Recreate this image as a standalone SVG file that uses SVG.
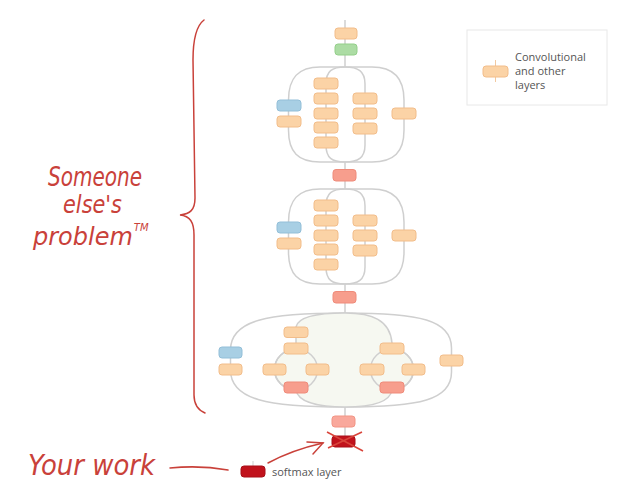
<svg xmlns="http://www.w3.org/2000/svg" width="627" height="501" viewBox="0 0 627 501">
<style>
.n{stroke-width:1}
.o{fill:#fbd3a6;stroke:#f2bd8a}
.b{fill:#a8cfe4;stroke:#93bfd8}
.g{fill:#acdca4;stroke:#94cf8a}
.r{fill:#f79e8d;stroke:#ef8b7a}
.d{fill:#c1121c;stroke:#a80f18}
.ln{fill:none;stroke:#cfcfcf;stroke-width:1.5}
.hw{fill:#c9413a;font-family:"DejaVu Sans ExtraLight","DejaVu Sans",sans-serif;font-weight:200;font-style:italic}
.hl{fill:none;stroke:#c9413a;stroke-width:1.5;stroke-linecap:round}
.lt{fill:#555;font-family:"Open Sans","Liberation Sans",sans-serif;font-size:11px}
</style>
<defs>
<g id="mod">
<path class="ln" d="M345,67 L320,67 C298,67 288.5,78 288.5,100 L288.5,130 C288.5,152 298,162 320,162 L345,162 L372,162 C394,162 404,152 404,130 L404,100 C404,78 394,67 372,67 Z"/>
<path class="ln" d="M345,67 C332,67 326,71 326,84 L326,145 C326,158 332,162 345,162 C358,162 365,158 365,145 L365,84 C365,71 358,67 345,67 Z"/>
<rect class="n b" x="277" y="100" width="24" height="11" rx="3"/>
<rect class="n o" x="277" y="116" width="24" height="11" rx="3"/>
<rect class="n o" x="314" y="78" width="24" height="11" rx="3"/>
<rect class="n o" x="314" y="93" width="24" height="11" rx="3"/>
<rect class="n o" x="314" y="108" width="24" height="11" rx="3"/>
<rect class="n o" x="314" y="122" width="24" height="11" rx="3"/>
<rect class="n o" x="314" y="137" width="24" height="11" rx="3"/>
<rect class="n o" x="353" y="93" width="24" height="11" rx="3"/>
<rect class="n o" x="353" y="108" width="24" height="11" rx="3"/>
<rect class="n o" x="353" y="123" width="24" height="11" rx="3"/>
<rect class="n o" x="392" y="108" width="24" height="11" rx="3"/>
</g>
</defs>
<rect width="627" height="501" fill="#fff"/>

<g id="connectors">
<line class="ln" x1="345" y1="20" x2="345" y2="67"/>
<line class="ln" x1="345" y1="162" x2="345" y2="189"/>
<line class="ln" x1="345" y1="284" x2="345" y2="313"/>
<line class="ln" x1="345" y1="407" x2="345" y2="436"/>
<path class="ln" d="M345,313 C268,313 230.5,320 230.5,350 L230.5,370 C230.5,400 268,407 345,407 C420,407 451.5,400 451.5,372 L451.5,348 C451.5,320 420,313 345,313 Z"/>
<path d="M345,313 C318,313 298,316 296,327 L296,349 A21.5,20.5 0 0 0 296,390 C298,402 318,407 345,407 C372,407 390,402 392,390 A21.5,20.5 0 0 0 392,349 L392,343 C390,320 372,313 345,313 Z" fill="#f6f8f1" stroke="#cfcfcf" stroke-width="1.5"/>
<ellipse class="ln" cx="296" cy="369.5" rx="21.5" ry="20.5"/>
<ellipse class="ln" cx="392" cy="369.5" rx="21.5" ry="20.5"/>
</g>

<g id="stem">
<rect class="n o" x="335" y="28" width="22" height="11" rx="3"/>
<rect class="n g" x="335" y="44" width="22" height="11" rx="3"/>
</g>
<g id="module1"><use href="#mod"/></g>
<g id="pool1"><rect class="n r" x="333" y="169.5" width="23" height="11.5" rx="3"/></g>
<g id="module2"><use href="#mod" transform="translate(0,122)"/></g>
<g id="pool2"><rect class="n r" x="333" y="291.5" width="23" height="11.5" rx="3"/></g>
<g id="module3">
<rect class="n b" x="219" y="347" width="23" height="11" rx="3"/>
<rect class="n o" x="219" y="364" width="23" height="11" rx="3"/>
<rect class="n o" x="284" y="327" width="24" height="10.5" rx="3"/>
<rect class="n o" x="284" y="343" width="24" height="11" rx="3"/>
<rect class="n o" x="263" y="364" width="23" height="11" rx="3"/>
<rect class="n o" x="306" y="364" width="23" height="11" rx="3"/>
<rect class="n r" x="284" y="382" width="24" height="11" rx="3"/>
<rect class="n o" x="380" y="343" width="24" height="11" rx="3"/>
<rect class="n o" x="360" y="364" width="24" height="11" rx="3"/>
<rect class="n o" x="402" y="364" width="23" height="11" rx="3"/>
<rect class="n r" x="380" y="382" width="24" height="11" rx="3"/>
<rect class="n o" x="440" y="355" width="23" height="11" rx="3"/>
</g>
<g id="prefinal"><rect class="n r" x="332" y="416" width="23" height="11" rx="3" style="fill:#f9a89c;stroke:#f29585"/></g>
<g id="softmax">
<rect class="n d" x="332" y="436" width="23" height="11" rx="3"/>
<line x1="327" y1="432" x2="363" y2="451" stroke="#d9453b" stroke-width="1.5"/>
<line x1="362" y1="432" x2="328" y2="448" stroke="#d9453b" stroke-width="1.5"/>
</g>

<g id="legend">
<rect x="467" y="30" width="140" height="75" fill="#fff" stroke="#e8e8e8"/>
<line x1="495.5" y1="60" x2="495.5" y2="82" stroke="#f2c9a0" stroke-width="1"/>
<rect class="n o" x="483" y="66" width="25" height="11" rx="3"/>
<text class="lt" x="515" y="61">Convolutional</text>
<text class="lt" x="515" y="75">and other</text>
<text class="lt" x="515" y="89">layers</text>
</g>
<g id="legend-softmax">
<line x1="253" y1="461" x2="253" y2="466" stroke="#cfcfcf" stroke-width="1"/>
<rect class="n d" x="241" y="466" width="24" height="11" rx="3"/>
<text class="lt" x="272" y="476">softmax layer</text>
</g>

<g id="annotations">
<path class="hl" d="M204,20 C196,26 193,40 193,60 L195,198 C195,210 190,214 180,215 C190,216 194,222 194,235 L194,395 C194,405 198,410 205,413"/>
<text class="hw" x="48" y="186" font-size="26" textLength="94" lengthAdjust="spacingAndGlyphs">Someone</text>
<text class="hw" x="63" y="213" font-size="25" textLength="59" lengthAdjust="spacingAndGlyphs">else's</text>
<text class="hw" x="33" y="245" font-size="24">problem<tspan dx="1" dy="-14" font-size="10">TM</tspan></text>
<text class="hw" x="28" y="475" font-size="28" textLength="127" lengthAdjust="spacingAndGlyphs">Your work</text>
<path class="hl" d="M170,468 Q200,465 228,470"/>
<path class="hl" d="M268,463 Q292,450 323,443"/>
<path class="hl" d="M307,442 L323,443 L313,454"/>
</g>
</svg>
